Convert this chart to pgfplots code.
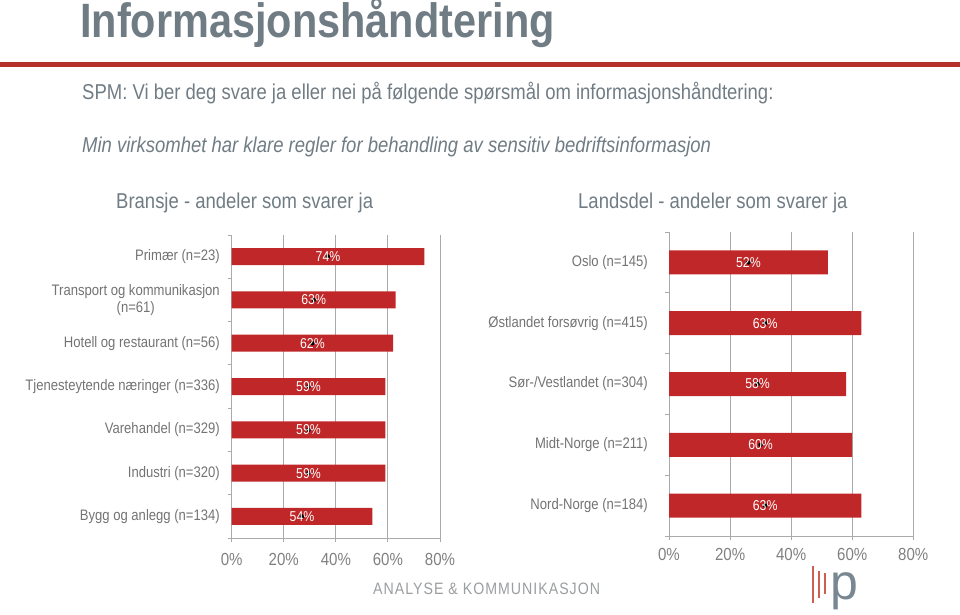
\documentclass[border=0pt]{standalone}
\usepackage{fontspec}
\setmainfont{Liberation Sans}[FakeStretch=0.86]
\newfontfamily\logofont{Liberation Sans}[FakeStretch=0.86, LetterSpace=6]
\newfontfamily\logop{Liberation Sans}
\usepackage{pgfplots}
\usepackage{pgfplotstable}
\pgfplotsset{compat=1.18}
\definecolor{barred}{RGB}{192,39,40}
\definecolor{titlegray}{RGB}{112,124,132}
\definecolor{labgray}{RGB}{115,115,115}
\definecolor{tickgray}{RGB}{128,128,128}
\definecolor{gridgray}{RGB}{170,170,170}
\definecolor{linered}{RGB}{180,50,42}
\definecolor{logored}{RGB}{205,95,80}
\definecolor{logogray}{RGB}{120,135,145}
\definecolor{logotext}{RGB}{155,158,160}

\pgfplotstableread{
y v
0 54
1 59
2 59
3 59
4 62
5 63
6 74
}\bransje

\pgfplotstableread{
y v
0 63
1 60
2 58
3 63
4 52
}\landsdel

\pgfplotsset{
  /pgf/number format/assume math mode=true,
  mybar/.style={
    scale only axis, xmin=0, xmax=80, enlargelimits=false,
    axis x line*=bottom, axis y line*=left,
    axis line style={gridgray, line width=0.9pt},
    xtick={0,20,40,60,80},
    xticklabels={0\%,20\%,40\%,60\%,80\%},
    xmajorgrids, major grid style={gridgray, line width=0.9pt},
    tick align=outside,
    major tick length=4bp, minor tick length=4bp,
    major x tick style={gridgray, line width=0.9pt},
    major y tick style={draw=none},
    minor y tick style={gridgray, line width=0.9pt},
    xticklabel style={font=\fontsize{17.5bp}{19bp}\selectfont, text=tickgray, inner sep=0pt, yshift=-9bp},
    yticklabel style={font=\fontsize{15.2bp}{17bp}\selectfont, text=labgray, align=center, inner sep=0pt, xshift=-7.7bp},
  },
  barlabels/.style={only marks, mark=*, mark options={draw=none, fill=none},
    point meta=explicit,
    nodes near coords={\pgfmathprintnumber{\pgfplotspointmeta}\%},
    nodes near coords style={anchor=center, text=white, font=\fontsize{14.3bp}{15bp}\selectfont}},
}

\begin{document}
\begin{tikzpicture}
\path[use as bounding box] (0,0) rectangle (960bp,-615bp);

% header
\node[anchor=base west, inner sep=0, text=titlegray, font=\bfseries\fontsize{48.2bp}{50bp}\selectfont] at (80bp,-37bp) {Informasjonshåndtering};
\fill[linered] (0,-62bp) rectangle (960bp,-66.5bp);
\node[anchor=base west, inner sep=0, text=titlegray, font=\fontsize{21.5bp}{23bp}\selectfont] at (82bp,-99bp) {SPM: Vi ber deg svare ja eller nei på følgende spørsmål om informasjonshåndtering:};
\node[anchor=base west, inner sep=0, text=titlegray, font=\itshape\fontsize{21.5bp}{23bp}\selectfont] at (82bp,-152bp) {Min virksomhet har klare regler for behandling av sensitiv bedriftsinformasjon};
\node[anchor=base west, inner sep=0, text=titlegray, font=\fontsize{21.5bp}{23bp}\selectfont] at (116bp,-208bp) {Bransje - andeler som svarer ja};
\node[anchor=base west, inner sep=0, text=titlegray, font=\fontsize{21.5bp}{23bp}\selectfont] at (578bp,-208bp) {Landsdel - andeler som svarer ja};

% left chart
\begin{axis}[mybar,
  at={(231.7bp,-538bp)}, anchor=south west,
  width=208.3bp, height=303bp,
  ymin=-0.5, ymax=6.5,
  ytick={0,1,2,3,4,5,6},
  yticklabels={Bygg og anlegg (n=134), Industri (n=320), Varehandel (n=329), Tjenesteytende næringer (n=336), Hotell og restaurant (n=56), {Transport og kommunikasjon\\(n=61)}, Primær (n=23)},
  minor ytick={-0.5,0.5,1.5,2.5,3.5,4.5,5.5,6.5},
  xticklabel style={yshift=-2bp},
]
\addplot[xbar, bar width=17bp, bar shift=0pt, fill=barred, draw=none] table[x=v, y=y] {\bransje};
\addplot[barlabels] table[x expr=\thisrow{v}/2, y=y, meta=v] {\bransje};
\end{axis}

% right chart
\begin{axis}[mybar,
  at={(669bp,-536bp)}, anchor=south west,
  width=244.3bp, height=304bp,
  ymin=-0.5, ymax=4.5,
  ytick={0,1,2,3,4},
  yticklabels={Nord-Norge (n=184), Midt-Norge (n=211), Sør-/Vestlandet (n=304), Østlandet forsøvrig (n=415), Oslo (n=145)},
  minor ytick={-0.5,0.5,1.5,2.5,3.5,4.5},
  yticklabel style={xshift=-9.3bp},
  xticklabel style={yshift=1bp},
]
\addplot[xbar, bar width=24bp, bar shift=0pt, fill=barred, draw=none] table[x=v, y=y] {\landsdel};
\addplot[barlabels] table[x expr=\thisrow{v}/2, y=y, meta=v] {\landsdel};
\end{axis}

% footer logo
\node[anchor=base west, inner sep=0, text=logotext, font=\logofont\fontsize{16.5bp}{17bp}\selectfont] at (373bp,-594bp) {ANALYSE \& KOMMUNIKASJON};
\draw[logored, line width=1.6bp] (813bp,-566bp) -- (813bp,-603bp);
\draw[logored, line width=1.6bp] (819bp,-571bp) -- (819bp,-598bp);
\draw[logored, line width=1.6bp] (825bp,-573bp) -- (825bp,-594bp);
\node[anchor=base west, inner sep=0, text=logogray, font=\logop\fontsize{50bp}{52bp}\selectfont] at (830bp,-599bp) {\smash{p}};
\end{tikzpicture}
\end{document}
